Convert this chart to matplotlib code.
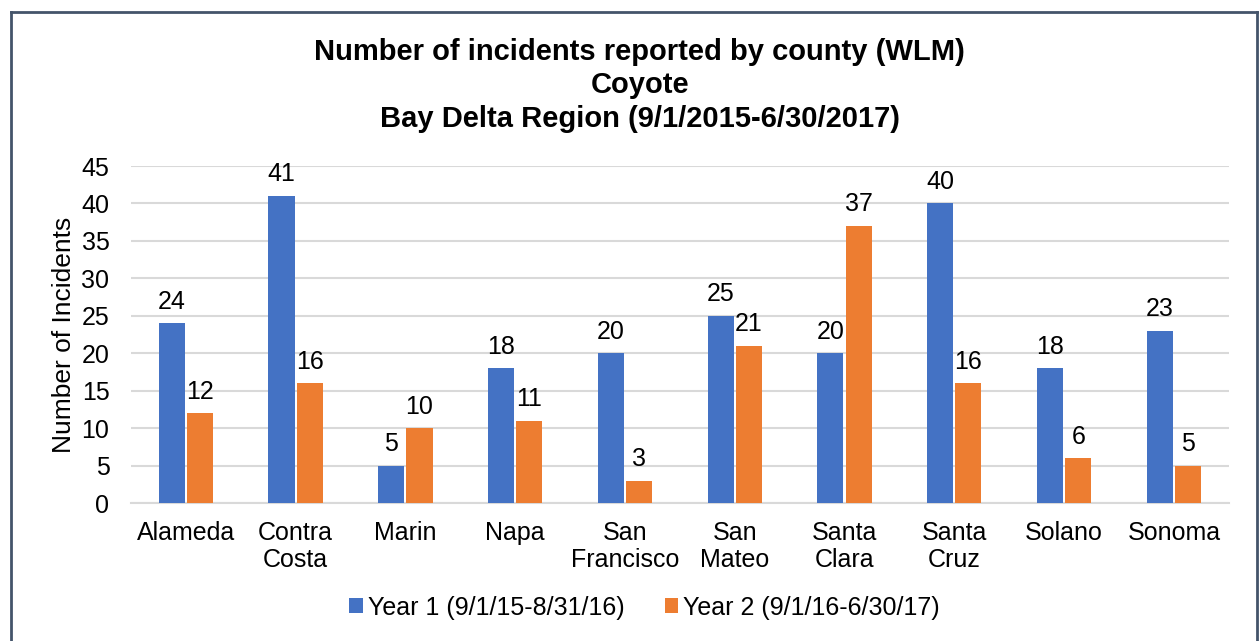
import matplotlib.pyplot as plt
import numpy as np

plt.rcParams['font.family'] = ['Liberation Sans', 'DejaVu Sans']

# data
counties = ["Alameda", "Contra\nCosta", "Marin", "Napa", "San\nFrancisco",
            "San\nMateo", "Santa\nClara", "Santa\nCruz", "Solano", "Sonoma"]
year1 = [24, 41, 5, 18, 20, 25, 20, 40, 18, 23]
year2 = [12, 16, 10, 11, 3, 21, 37, 16, 6, 5]
yticks = [0, 5, 10, 15, 20, 25, 30, 35, 40, 45]

blue = "#4472C4"
orange = "#ED7D31"

fig = plt.figure(figsize=(12.59, 6.41), dpi=100)
ax = fig.add_axes([0.104, 0.215, 0.872, 0.526])

x = np.arange(len(counties))
w = 0.237
b1 = ax.bar(x - w / 2 - 0.01, year1, w, color=blue, label="Year 1 (9/1/15-8/31/16)", zorder=3)
b2 = ax.bar(x + w / 2 + 0.01, year2, w, color=orange, label="Year 2 (9/1/16-6/30/17)", zorder=3)

ax.bar_label(b1, padding=7, fontsize=18)
ax.bar_label(b2, padding=7, fontsize=18)

ax.set_xlim(-0.5, len(counties) - 0.5)
ax.set_ylim(0, 45)
ax.set_yticks(yticks)
ax.set_xticks(x)
ax.set_xticklabels(counties, fontsize=18, linespacing=1.15)
ax.tick_params(axis='y', labelsize=18, length=0, pad=15.5)
ax.tick_params(axis='x', length=0, pad=13)
ax.grid(axis='y', color="#D9D9D9", linewidth=1.5, zorder=0)
for s in ["top", "right", "left"]:
    ax.spines[s].set_visible(False)
ax.spines["bottom"].set_color("#D9D9D9")
ax.spines["bottom"].set_linewidth(1.5)

ax.set_ylabel("Number of Incidents", fontsize=19, labelpad=4)

fig.text(0.508, 0.867, "Number of incidents reported by county (WLM)\nCoyote\nBay Delta Region (9/1/2015-6/30/2017)",
         ha='center', va='center', fontsize=21, fontweight='bold', linespacing=1.26)

leg = fig.legend(handles=[b1, b2], loc='center', bbox_to_anchor=(0.512, 0.052), ncol=2,
                 frameon=False, fontsize=18, handlelength=0.55, handleheight=0.55,
                 handletextpad=0.2, columnspacing=1.6)

# frame around the chart (left, top, right)
border = "#44546A"
fig.add_artist(plt.Line2D([0.009, 0.009], [0, 0.982], color=border, lw=2))
fig.add_artist(plt.Line2D([0.009, 0.9985], [0.982, 0.982], color=border, lw=2))
fig.add_artist(plt.Line2D([0.9985, 0.9985], [0, 0.982], color=border, lw=2))

plt.savefig("out.png", dpi=100)
